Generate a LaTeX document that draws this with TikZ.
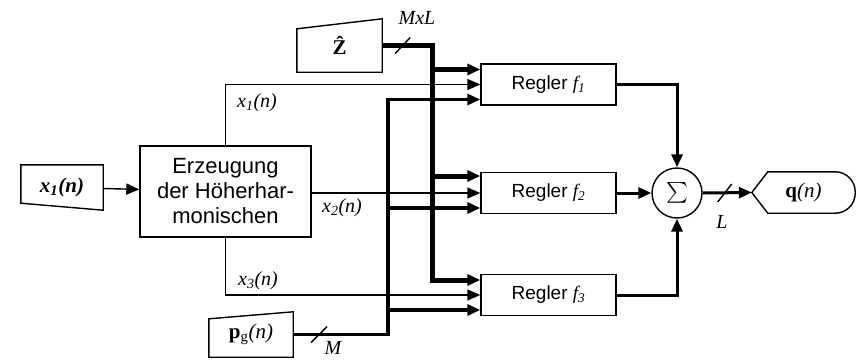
\documentclass[tikz,border=0pt]{standalone}
\usepackage{amsmath}
\usepackage{fontspec}
\setmainfont{Liberation Serif}
\setsansfont{Liberation Sans}
\usetikzlibrary{arrows.meta,positioning,calc}
\tikzset{
  >={Triangle[length=13pt,width=11pt]},
  blk/.style={draw, line width=1.4pt, align=center, inner sep=0pt, font=\sffamily\fontsize{22}{25}\selectfont},
  ctrl/.style={blk, minimum width=135pt, minimum height=41pt, font=\sffamily\fontsize{19}{22}\selectfont},
  src/.style={inner sep=0pt, font=\fontsize{21}{24}\selectfont},
  sumnode/.style={draw, circle, line width=1.4pt, minimum size=50pt, inner sep=0pt, font=\fontsize{22}{24}\selectfont},
  lbl/.style={inner sep=0pt, font=\itshape\fontsize{20}{22}\selectfont},
  thin/.style={line width=1.4pt},
  zbus/.style={line width=5pt},
  pbus/.style={line width=3.5pt},
  outl/.style={line width=3pt},
  tick/.style={line width=1.4pt},
}
\begin{document}
\begin{tikzpicture}[x=1pt, y=-1pt]
  \useasboundingbox (0,0) rectangle (859,359);
  % sources and sink
  \node[src, minimum width=82pt, minimum height=45pt] (x1in) at (62,187.5) {\bfseries\itshape x\textsubscript{1}(n)};
  \node[src, minimum width=85pt, minimum height=53pt] (zhat) at (339.5,45.5) {\textbf{\^{Z}}};
  \node[src, minimum width=84pt, minimum height=45pt] (pg) at (251,334.5) {\textbf{p}\textsubscript{g}\textit{(n)}};
  \node[src, minimum width=103pt, minimum height=41pt] (q) at (803.5,192.5) {\textbf{q}\textit{(n)}};
  \draw[thin] (x1in.north west) -- (x1in.north east) -- (x1in.south east) -- ($(x1in.south west)+(0pt,7pt)$) -- cycle;
  \draw[thin] (zhat.south west) -- ($(zhat.north west)+(0pt,-10pt)$) -- (zhat.north east) -- (zhat.south east) -- cycle;
  \draw[thin] (pg.south west) -- ($(pg.north west)+(0pt,-7pt)$) -- (pg.north east) -- (pg.south east) -- cycle;
  \draw[thin] (q.west) -- ($(q.north west)+(16pt,0pt)$) [rounded corners=20pt] -- (q.north east) -- (q.south east)
    [sharp corners] -- ($(q.south west)+(16pt,0pt)$) -- cycle;
  % blocks
  \node[blk, minimum width=171pt, minimum height=91pt] (erz) at (225.5,191.5) {Erzeugung\\der Höherhar-\\monischen};
  \node[ctrl] (f1) at (548.5,84.5) {Regler {\rmfamily\itshape f\textsubscript{1}}};
  \node[ctrl] (f2) at (548.5,193) {Regler {\rmfamily\itshape f\textsubscript{2}}};
  \node[ctrl] (f3) at (548.5,295) {Regler {\rmfamily\itshape f\textsubscript{3}}};
  \node[sumnode] (sum) at (677,193) {$\sum$};
  % input points of the controllers
  \coordinate (f1a) at ($(f1.west)+(0,-15)$);
  \coordinate (f1b) at (f1.west);
  \coordinate (f1c) at ($(f1.west)+(0,15)$);
  \coordinate (f2a) at ($(f2.west)+(0,-17)$);
  \coordinate (f2b) at (f2.west);
  \coordinate (f2c) at ($(f2.west)+(0,15)$);
  \coordinate (f3a) at ($(f3.west)+(0,-15)$);
  \coordinate (f3b) at (f3.west);
  \coordinate (f3c) at ($(f3.west)+(0,15)$);
  \coordinate (zb) at ($(zhat.east)+(50,0)$);
  \coordinate (pb) at ($(pg.east)+(95,0)$);
  % harmonics
  \draw[thin,->] (x1in) -- (erz);
  \draw[thin,->] (erz.north) |- (f1b);
  \draw[thin,->] (f2b -| erz.east) -- (f2b);
  \draw[thin,->] (erz.south) |- (f3b);
  \node[lbl] (lx1) at (257,103) {x\textsubscript{1}(n)};
  \node[lbl] (lx2) at (342,208) {x\textsubscript{2}(n)};
  \node[lbl] (lx3) at (258,281) {x\textsubscript{3}(n)};
  % Z bus
  \draw[zbus,->] (zhat.east) -- (zb) |- (f3a);
  \draw[zbus,->] (zb |- f1a) -- (f1a);
  \draw[zbus,->] (zb |- f2a) -- (f2a);
  \draw[tick] ($(zhat.east)+(13,8)$) -- ++(15,-16);
  \node[lbl] (lmxl) at (417,18) {MxL};
  % p bus
  \draw[pbus,->] (pg.east) -- (pb) |- (f1c);
  \draw[pbus,->] (pb |- f2c) -- (f2c);
  \draw[pbus,->] (pb |- f3c) -- (f3c);
  \draw[tick] ($(pg.east)+(18,8)$) -- ++(16,-16);
  \node[lbl] (lm) at (333,348) {M};
  % outputs
  \draw[outl,->] (f1.east) -| (sum.north);
  \draw[outl,->] (f2.east) -- (sum.west);
  \draw[outl,->] (f3.east) -| (sum.south);
  \draw[outl,->] (sum.east) -- (q.west);
  \draw[tick] ($(sum.east)+(15,9)$) -- ++(14,-18);
  \node[lbl] (ll) at (722,222) {L};
\end{tikzpicture}
\end{document}
